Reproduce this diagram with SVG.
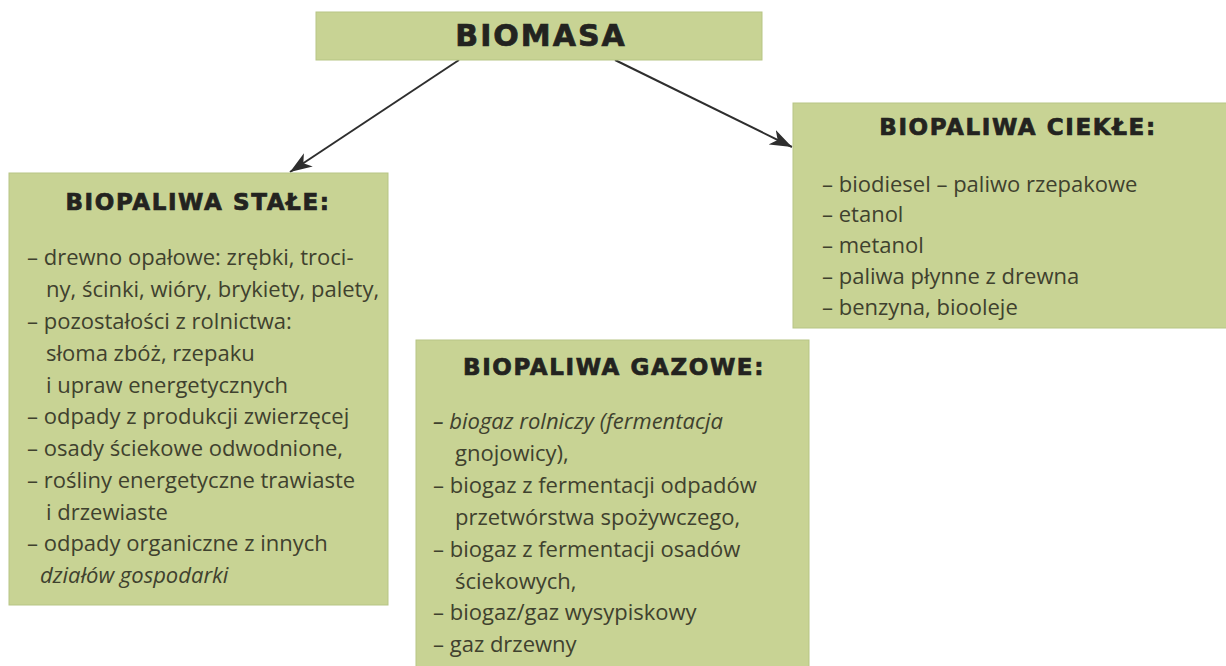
<svg xmlns="http://www.w3.org/2000/svg" width="1226" height="666" viewBox="0 0 1226 666">
<style>
.box{fill:#c8d394;stroke:#b7c585;stroke-width:1}
.title{font-family:"DejaVu Sans",sans-serif;font-weight:bold;fill:#232320;stroke:#232320;stroke-width:0.7;text-anchor:middle}
.t{font-family:"Open Sans",sans-serif;font-size:22px;fill:#3f412e}
.i{font-style:italic}
.conn{stroke:#2e2e2e;stroke-width:2;fill:none}
</style>
<defs>
<marker id="ah" markerWidth="24" markerHeight="16" refX="22" refY="8" orient="auto" markerUnits="userSpaceOnUse">
<path d="M0,0 L22,8 L0,16 L6,8 Z" fill="#2e2e2e"/>
</marker>
</defs>
<rect width="1226" height="666" fill="#ffffff"/>
<g id="connectors">
<line class="conn" x1="459" y1="60" x2="290" y2="172" marker-end="url(#ah)"/>
<line class="conn" x1="615" y1="60" x2="792" y2="147" marker-end="url(#ah)"/>
</g>
<g id="biomasa">
<rect class="box" x="316" y="12" width="446" height="48"/>
<text class="title" x="541" y="46" font-size="30" letter-spacing="2">BIOMASA</text>
</g>
<g id="stale">
<rect class="box" x="9" y="173" width="379" height="432"/>
<text class="title" x="198" y="210" font-size="23" letter-spacing="1.6">BIOPALIWA STAŁE:</text>
<text class="t" x="27" y="265">– drewno opałowe: zrębki, troci-</text>
<text class="t" x="46" y="297">ny, ścinki, wióry, brykiety, palety,</text>
<text class="t" x="27" y="329">– pozostałości z rolnictwa:</text>
<text class="t" x="46" y="361">słoma zbóż, rzepaku</text>
<text class="t" x="46" y="393">i upraw energetycznych</text>
<text class="t" x="27" y="424">– odpady z produkcji zwierzęcej</text>
<text class="t" x="27" y="456">– osady ściekowe odwodnione,</text>
<text class="t" x="27" y="488">– rośliny energetyczne trawiaste</text>
<text class="t" x="46" y="520">i drzewiaste</text>
<text class="t" x="27" y="551">– odpady organiczne z innych</text>
<text class="t i" x="40" y="583">działów gospodarki</text>
</g>
<g id="ciekle">
<rect class="box" x="793" y="103" width="440" height="225"/>
<text class="title" x="1018" y="135" font-size="23" letter-spacing="1.6">BIOPALIWA CIEKŁE:</text>
<text class="t" x="822" y="192">– biodiesel – paliwo rzepakowe</text>
<text class="t" x="822" y="222">– etanol</text>
<text class="t" x="822" y="253">– metanol</text>
<text class="t" x="822" y="284">– paliwa płynne z drewna</text>
<text class="t" x="822" y="315">– benzyna, biooleje</text>
</g>
<g id="gazowe">
<rect class="box" x="416" y="340" width="393" height="340"/>
<text class="title" x="614" y="375" font-size="23" letter-spacing="1.6">BIOPALIWA GAZOWE:</text>
<text class="t i" x="433" y="429">– biogaz rolniczy (fermentacja</text>
<text class="t" x="455" y="461">gnojowicy),</text>
<text class="t" x="433" y="493">– biogaz z fermentacji odpadów</text>
<text class="t" x="455" y="525">przetwórstwa spożywczego,</text>
<text class="t" x="433" y="557">– biogaz z fermentacji osadów</text>
<text class="t" x="455" y="589">ściekowych,</text>
<text class="t" x="433" y="620">– biogaz/gaz wysypiskowy</text>
<text class="t" x="433" y="652">– gaz drzewny</text>
</g>
</svg>
